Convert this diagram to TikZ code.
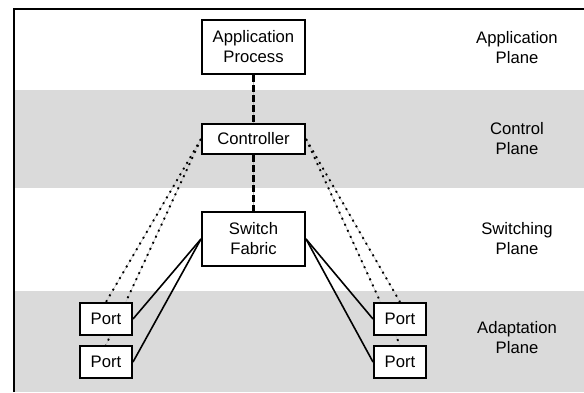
\documentclass[tikz,border=0pt]{standalone}
\usepackage{fontspec}
\setmainfont{Liberation Sans}
\usepackage{xcolor}
\usetikzlibrary{backgrounds}
\definecolor{planegray}{RGB}{218,218,218}

\begin{document}
\begin{tikzpicture}[x=0.75pt,y=-0.75pt,
  every node/.style={font=\fontsize{12.5}{15}\selectfont,align=center},
  box/.style={draw,line width=1.5pt,fill=white,inner sep=0pt,minimum width=77.25pt},
  portbox/.style={draw,line width=1.5pt,fill=white,inner sep=0pt,minimum width=39pt,minimum height=24pt},
  ctrllink/.style={line width=1.6pt,dash pattern=on 5pt off 2.5pt,
    preaction={draw,gray!55,line width=0.5pt,solid}},
  portlink/.style={line width=1.4pt,dash pattern=on 1.4pt off 3.6pt,
    preaction={draw,gray!45,line width=0.5pt,solid}},
  datalink/.style={line width=1.2pt}]
  \useasboundingbox (0,0) rectangle (584,392);
  % boxes in the middle column
  \node[box,minimum height=40.5pt] (app) at (253.5,47) {Application\\Process};
  \node[box,minimum height=22.5pt] (ctrl) at (253.5,139) {Controller};
  \node[box,minimum height=40.5pt] (fabric) at (253.5,239) {Switch\\Fabric};
  \node[portbox] (lport1) at (106,319) {Port};
  \node[portbox] (lport2) at (106,362) {Port};
  \node[portbox] (rport1) at (400,319) {Port};
  \node[portbox] (rport2) at (400,362) {Port};
  % plane names
  \node (appplane) at (517,48) {Application\\Plane};
  \node (ctrlplane) at (517,139) {Control\\Plane};
  \node (swplane) at (517,239) {Switching\\Plane};
  \node (adplane) at (517,338) {Adaptation\\Plane};
  \begin{pgfonlayer}{background}
    \fill[planegray] (14,90) rectangle (584,188);
    \fill[planegray] (14,291) rectangle (584,392);
    \draw[ctrllink] (app.south) -- (ctrl.north);
    \draw[ctrllink] (ctrl.south) -- (fabric.north);
    \foreach \p in {lport1,lport2} \draw[portlink] (ctrl.west) -- (\p.north);
    \foreach \p in {rport1,rport2} \draw[portlink] (ctrl.east) -- (\p.north);
  \end{pgfonlayer}
  \foreach \p in {lport1,lport2} \draw[datalink] (fabric.west) -- (\p.east);
  \foreach \p in {rport1,rport2} \draw[datalink] (fabric.east) -- (\p.west);
  \draw[line width=1.5pt] (14,392) -- (14,9) -- (584,9);
\end{tikzpicture}
\end{document}
